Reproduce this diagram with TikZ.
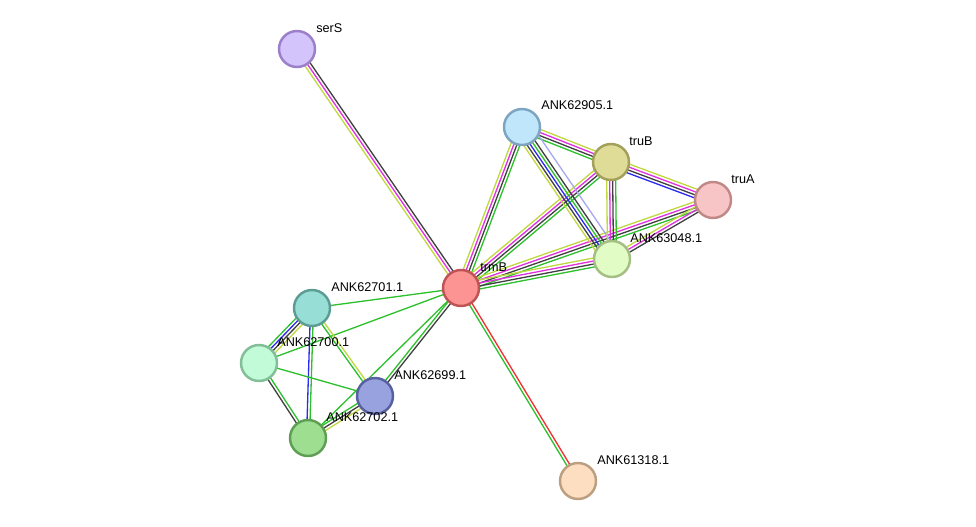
\documentclass[tikz,border=0pt]{standalone}
\usepackage{fontspec}
\setmainfont{Liberation Sans}
\usetikzlibrary{calc,backgrounds}

\definecolor{lkgreen}{HTML}{2DC02D}
\definecolor{lkred}{HTML}{F03030}
\definecolor{lkblue}{HTML}{2A2AF0}
\definecolor{lkblack}{HTML}{404040}
\definecolor{lkmag}{HTML}{E030E0}
\definecolor{lkyel}{HTML}{C0D840}
\definecolor{lklav}{HTML}{A8A8F0}

\tikzset{
  prot/.style={circle, minimum size=0.72cm, line width=1.4pt, inner sep=0pt},
  lbl/.style={anchor=west, inner sep=0pt, font=\fontsize{7.2}{8}\selectfont},
  strand/.style={line width=0.75pt},
  gap/.style={draw=none}
}

% draw one link as a bundle of parallel coloured strands
\newcommand{\strandlink}[3]{%
  \foreach \c [count=\n] in {#3} {\xdef\ncol{\n}}
  \foreach \c [count=\i] in {#3} {
    \pgfmathsetmacro{\off}{(\i-(\ncol+1)/2)*1.7}
    \draw[strand, \c] ($(#1.center)!\off pt!90:(#2.center)$) -- ($(#2.center)!\off pt!-90:(#1.center)$);
  }
}

\begin{document}
\begin{tikzpicture}
\useasboundingbox (0,0) rectangle (19.52,-10.54);

% proteins
\node[prot, fill={rgb,255:red,212;green,196;blue,252}, draw={rgb,255:red,155;green,127;blue,201}] (serS) at (5.94,-0.98) {};
\node[prot, fill={rgb,255:red,191;green,230;blue,251}, draw={rgb,255:red,125;green,165;blue,194}] (ANK62905) at (10.44,-2.54) {};
\node[prot, fill={rgb,255:red,223;green,220;blue,152}, draw={rgb,255:red,162;green,160;blue,91}] (truB) at (12.22,-3.24) {};
\node[prot, fill={rgb,255:red,247;green,197;blue,197}, draw={rgb,255:red,193;green,136;blue,136}] (truA) at (14.26,-4.00) {};
\node[prot, fill={rgb,255:red,225;green,252;blue,196}, draw={rgb,255:red,165;green,190;blue,132}] (ANK63048) at (12.24,-5.18) {};
\node[prot, fill={rgb,255:red,252;green,148;blue,148}, draw={rgb,255:red,192;green,84;blue,84}] (trmB) at (9.22,-5.76) {};
\node[prot, fill={rgb,255:red,151;green,223;blue,214}, draw={rgb,255:red,92;green,156;blue,148}] (ANK62701) at (6.24,-6.16) {};
\node[prot, fill={rgb,255:red,193;green,251;blue,215}, draw={rgb,255:red,130;green,190;blue,151}] (ANK62700) at (5.18,-7.26) {};
\node[prot, fill={rgb,255:red,151;green,162;blue,223}, draw={rgb,255:red,88;green,96;blue,160}] (ANK62699) at (7.50,-7.92) {};
\node[prot, fill={rgb,255:red,158;green,222;blue,144}, draw={rgb,255:red,95;green,158;blue,85}] (ANK62702) at (6.16,-8.76) {};
\node[prot, fill={rgb,255:red,253;green,222;blue,193}, draw={rgb,255:red,188;green,158;blue,128}] (ANK61318) at (11.56,-9.62) {};

% links
\begin{pgfonlayer}{background}
\strandlink{serS}{trmB}{lkyel,lkmag,lkblack}
\strandlink{trmB}{ANK62905}{lkgreen,lkblack,lkmag,lkyel}
\strandlink{trmB}{truB}{lkgreen,lkblack,lkmag,lkyel}
\strandlink{trmB}{truA}{lkgreen,lkblack,lkmag,lkyel}
\strandlink{trmB}{ANK63048}{lkgreen,lkblack,lkmag,lkyel}
\strandlink{trmB}{ANK62701}{lkgreen}
\strandlink{trmB}{ANK62700}{lkgreen}
\strandlink{trmB}{ANK62699}{lkgreen,lkblack}
\strandlink{trmB}{ANK62702}{lkgreen}
\strandlink{trmB}{ANK61318}{lkgreen,lkred}
\strandlink{ANK62905}{truB}{lkgreen,lkblack,lkmag,lkyel}
\strandlink{ANK62905}{ANK63048}{lkyel,lkblack,lkblue,lkgreen,lkblack,gap,lklav}
\strandlink{truB}{truA}{lkblue,lkblack,lkmag,lkyel}
\strandlink{truB}{ANK63048}{lkyel,lkmag,lkblack,lkgreen}
\strandlink{truA}{ANK63048}{lkyel,lkmag,lkblack}
\strandlink{ANK62701}{ANK62700}{lkgreen,lkblue,lkblack,lkyel}
\strandlink{ANK62701}{ANK62702}{lkblue,lkgreen}
\strandlink{ANK62701}{ANK62699}{lkgreen,lkyel}
\strandlink{ANK62700}{ANK62699}{lkgreen}
\strandlink{ANK62700}{ANK62702}{lkblack,lkgreen}
\strandlink{ANK62699}{ANK62702}{lkgreen,lkblack,lkyel}
\end{pgfonlayer}

% labels
\node[lbl] (serSlbl) at ($(serS)+(0.38,0.42)$) {serS};
\node[lbl] (ANK62905lbl) at ($(ANK62905)+(0.38,0.44)$) {ANK62905.1};
\node[lbl] (truBlbl) at ($(truB)+(0.36,0.42)$) {truB};
\node[lbl] (truAlbl) at ($(truA)+(0.36,0.42)$) {truA};
\node[lbl] (ANK63048lbl) at ($(ANK63048)+(0.36,0.42)$) {ANK63048.1};
\node[lbl] (trmBlbl) at ($(trmB)+(0.38,0.42)$) {trmB};
\node[lbl] (ANK62701lbl) at ($(ANK62701)+(0.38,0.42)$) {ANK62701.1};
\node[lbl] (ANK62700lbl) at ($(ANK62700)+(0.36,0.42)$) {ANK62700.1};
\node[lbl] (ANK62699lbl) at ($(ANK62699)+(0.38,0.42)$) {ANK62699.1};
\node[lbl] (ANK62702lbl) at ($(ANK62702)+(0.36,0.42)$) {ANK62702.1};
\node[lbl] (ANK61318lbl) at ($(ANK61318)+(0.38,0.42)$) {ANK61318.1};
\end{tikzpicture}
\end{document}
